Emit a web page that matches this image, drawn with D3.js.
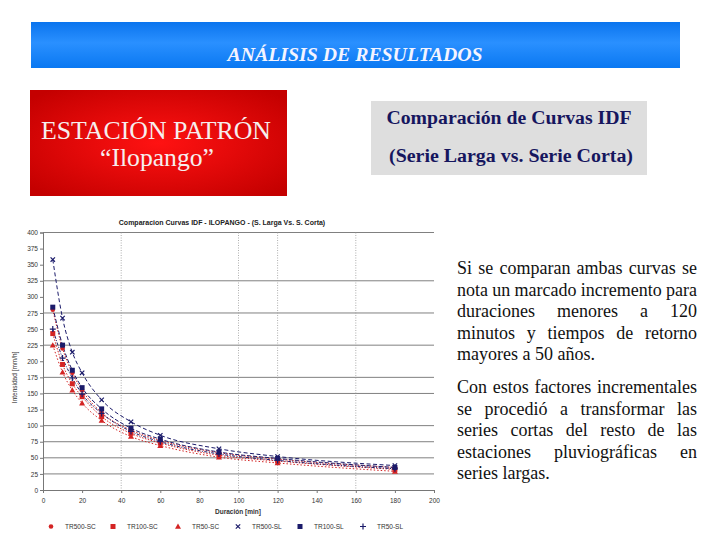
<!DOCTYPE html>
<html><head><meta charset="utf-8">
<script src="https://cdn.jsdelivr.net/npm/d3@7"></script>
<style>body{margin:0;background:#fff}svg{display:block}</style>
</head><body>
<svg id="s" width="720" height="540"></svg>
<script>
const durations = [5,10,15,20,30,45,60,90,120,180];
const seriesNames = ["TR500-SC","TR100-SC","TR50-SC","TR500-SL","TR100-SL","TR50-SL"];
const tr500SC = [280,220,182,155,120,93,77,58,48,35];
const tr100SC = [243,195,165,145,114,88,73,54,45,32];
const tr50SC  = [225,183,155,135,108,83,69,51,42,29];
const tr500SL = [358,267,214,182,140,106,85,64,52,38];
const tr100SL = [284,225,186,159,126,96,79,59,49,35];
const tr50SL  = [250,205,174,149,119,91,75,56,46,33];
const yTicks = [0,25,50,75,100,125,150,175,200,225,250,275,300,325,350,375,400];
const xTicks = [0,20,40,60,80,100,120,140,160,180,200];
const hGrid = [25,50,75,100,150,175,225,275,325,400];
const vGrid = [40,100,120,160];
const paragraph1 = ["Si se comparan ambas curvas se","nota un marcado incremento para","duraciones menores a 120","minutos y tiempos de retorno","mayores a 50 años."];
const paragraph2 = ["Con estos factores incrementales","se procedió a transformar las","series cortas del resto de las","estaciones pluviográficas en","series largas."];

const SERIF = "'Liberation Serif','Times New Roman',serif";
const svg = d3.select("#s");
const defs = svg.append("defs");
const bg = defs.append("linearGradient").attr("id","blueg").attr("x1",0).attr("y1",0).attr("x2",0).attr("y2",1);
bg.append("stop").attr("offset","0%").attr("stop-color","#0a74ee");
bg.append("stop").attr("offset","45%").attr("stop-color","#2a90ff");
bg.append("stop").attr("offset","100%").attr("stop-color","#0a78f2");
const rg = defs.append("radialGradient").attr("id","redg").attr("cx","50%").attr("cy","50%").attr("r","65%");
rg.append("stop").attr("offset","0%").attr("stop-color","#ff1212");
rg.append("stop").attr("offset","100%").attr("stop-color","#c40000");

svg.append("rect").attr("width",720).attr("height",540).attr("fill","#fff");

// header
svg.append("rect").attr("x",31).attr("y",22).attr("width",649).attr("height",46).attr("fill","url(#blueg)");
svg.append("text").attr("x",355).attr("y",61).attr("text-anchor","middle")
  .attr("font-family",SERIF).attr("font-style","italic").attr("font-weight","bold")
  .attr("font-size",19).attr("fill","#f4f4ff").attr("textLength",255).attr("lengthAdjust","spacingAndGlyphs")
  .text("ANÁLISIS DE RESULTADOS");

// red box
svg.append("rect").attr("x",30).attr("y",90).attr("width",257).attr("height",106).attr("fill","url(#redg)");
svg.append("text").attr("x",156).attr("y",139).attr("text-anchor","middle")
  .attr("font-family",SERIF).attr("font-size",25).attr("fill","#f6eeee")
  .attr("textLength",230).attr("lengthAdjust","spacingAndGlyphs").text("ESTACIÓN PATRÓN");
svg.append("text").attr("x",157).attr("y",166).attr("text-anchor","middle")
  .attr("font-family",SERIF).attr("font-size",25).attr("fill","#f6eeee")
  .attr("textLength",114).attr("lengthAdjust","spacingAndGlyphs").text("“Ilopango”");

// gray box
svg.append("rect").attr("x",371).attr("y",101).attr("width",276).attr("height",74).attr("fill","#dedede");
svg.append("text").attr("x",509).attr("y",124).attr("text-anchor","middle")
  .attr("font-family",SERIF).attr("font-weight","bold").attr("font-size",18)
  .attr("fill","#16165e").attr("textLength",245).attr("lengthAdjust","spacingAndGlyphs").text("Comparación de Curvas IDF");
svg.append("text").attr("x",511).attr("y",162).attr("text-anchor","middle")
  .attr("font-family",SERIF).attr("font-weight","bold").attr("font-size",18)
  .attr("fill","#16165e").attr("textLength",244).attr("lengthAdjust","spacingAndGlyphs").text("(Serie Larga vs. Serie Corta)");

// paragraph text (justified)
function drawPara(lines, y0){
  lines.forEach((line,i)=>{
    const y = y0 + i*21.6;
    const words = line.split(" ");
    const last = i===lines.length-1;
    const g = svg.append("g");
    const ts = words.map(w=>g.append("text").attr("y",y).attr("font-family",SERIF)
      .attr("font-size",18).attr("fill","#111").text(w));
    const widths = ts.map(t=>t.node().getComputedTextLength());
    const total = d3.sum(widths);
    const left=457, right=697;
    const gap = last || words.length<2 ? 4.5 : (right-left-total)/(words.length-1);
    let x = left;
    ts.forEach((t,k)=>{ t.attr("x",x); x += widths[k]+gap; });
  });
}
drawPara(paragraph1, 274);
drawPara(paragraph2, 393);

// chart
const x = d3.scaleLinear().domain([0,200]).range([43,434]);
const y = d3.scaleLinear().domain([0,400]).range([490,232.5]);
const ch = svg.append("g").attr("font-family","Liberation Sans");

ch.append("text").attr("x",222).attr("y",225).attr("text-anchor","middle").attr("font-size",7)
  .attr("font-weight","bold").attr("fill","#222").text("Comparacion Curvas IDF - ILOPANGO - (S. Larga Vs. S. Corta)");

ch.selectAll("line.hg").data(hGrid).join("line").attr("class","hg")
  .attr("x1",x(0)).attr("x2",x(200)).attr("y1",d=>y(d)).attr("y2",d=>y(d))
  .attr("stroke","#808080").attr("stroke-width",1);
ch.selectAll("line.vg").data(vGrid).join("line").attr("class","vg")
  .attr("x1",d=>x(d)).attr("x2",d=>x(d)).attr("y1",y(400)).attr("y2",y(0))
  .attr("stroke","#999").attr("stroke-width",0.8).attr("stroke-dasharray","1,1.5");

const yAxis = d3.axisLeft(y).tickValues(yTicks).tickSize(3).tickPadding(2);
const ya = ch.append("g").attr("transform",`translate(${x(0)},0)`).call(yAxis);
const xAxis = d3.axisBottom(x).tickValues(xTicks).tickSize(3).tickPadding(5);
const xa = ch.append("g").attr("transform",`translate(0,${y(0)})`).call(xAxis);
[ya,xa].forEach(a=>{
  a.select(".domain").attr("stroke","#777");
  a.selectAll(".tick line").attr("stroke","#777");
  a.selectAll("text").attr("font-family","Liberation Sans").attr("font-size",6.5).attr("fill","#333");
});

ch.append("text").attr("transform",`translate(17,${y(175)}) rotate(-90)`).attr("text-anchor","middle")
  .attr("font-size",6.5).attr("fill","#333").text("Intensidad [mm/h]");
ch.append("text").attr("x",238).attr("y",514).attr("text-anchor","middle")
  .attr("font-size",6.5).attr("font-weight","bold").attr("fill","#333").text("Duración [min]");

const red = "#d42424", navy = "#1b1b6a";
const series = [
  {name:seriesNames[0], vals:tr500SC, color:red, dash:"1.5,1.5", sym:"circle"},
  {name:seriesNames[1], vals:tr100SC, color:red, dash:"1.5,1.5", sym:"square"},
  {name:seriesNames[2], vals:tr50SC, color:red, dash:"1.5,2", sym:"triangle"},
  {name:seriesNames[3], vals:tr500SL, color:navy, dash:"4,2.5", sym:"x"},
  {name:seriesNames[4], vals:tr100SL, color:navy, dash:"4,2", sym:"square"},
  {name:seriesNames[5], vals:tr50SL, color:navy, dash:"3,1.5,1,1.5", sym:"plus"}
];
const line = d3.line().x(d=>x(d[0])).y(d=>y(d[1])).curve(d3.curveMonotoneX);
series.forEach(s=>{
  ch.append("path").datum(durations.map((d,i)=>[d,s.vals[i]])).attr("d",line)
    .attr("fill","none").attr("stroke",s.color).attr("stroke-width",1).attr("stroke-dasharray",s.dash);
});
function sym(g, type, color){
  if(type==="circle") g.append("circle").attr("r",2.3).attr("fill",color);
  else if(type==="square") g.append("rect").attr("x",-2.5).attr("y",-2.5).attr("width",5).attr("height",5).attr("fill",color);
  else if(type==="triangle") g.append("path").attr("d","M0,-3L3,2.3L-3,2.3Z").attr("fill",color);
  else if(type==="x") g.append("path").attr("d","M-2.2,-2.2L2.2,2.2M-2.2,2.2L2.2,-2.2").attr("stroke",color).attr("stroke-width",1.2);
  else if(type==="plus") g.append("path").attr("d","M0,-3L0,3M-3,0L3,0").attr("stroke",color).attr("stroke-width",1.2);
}
series.forEach(s=>{
  durations.forEach((d,i)=>{
    const g = ch.append("g").attr("transform",`translate(${x(d)},${y(s.vals[i])})`);
    sym(g, s.sym, s.color);
  });
});

// legend
const legX = [51,113,178,238,300,363];
series.forEach((s,i)=>{
  const g = ch.append("g").attr("transform",`translate(${legX[i]},526.5)`);
  sym(g, s.sym, s.color);
  ch.append("text").attr("x",legX[i]+14).attr("y",529).attr("font-size",6.5).attr("fill","#333").text(s.name);
});
</script>
</body></html>
